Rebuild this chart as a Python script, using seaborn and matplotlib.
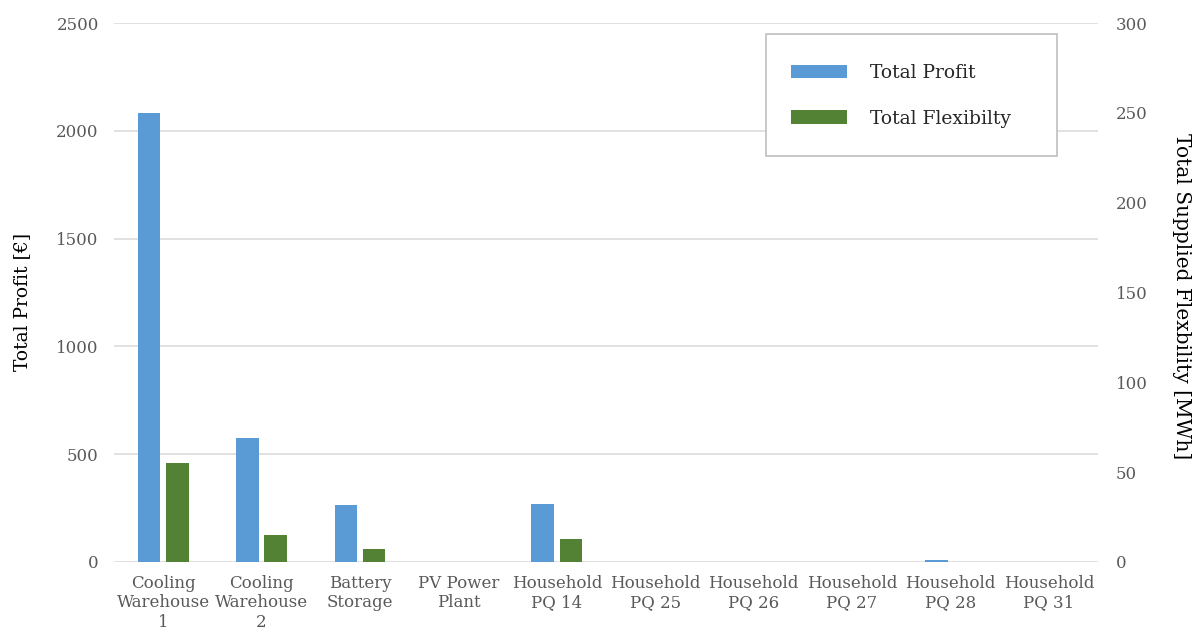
import numpy as np
import pandas as pd
import matplotlib
matplotlib.use("Agg")
import matplotlib.pyplot as plt
import seaborn as sns
from matplotlib.patches import Rectangle, Patch

# Assets on the x axis
assets = [
    "Cooling\nWarehouse\n1", "Cooling\nWarehouse\n2", "Battery\nStorage",
    "PV Power\nPlant", "Household\nPQ 14", "Household\nPQ 25",
    "Household\nPQ 26", "Household\nPQ 27", "Household\nPQ 28",
    "Household\nPQ 31",
]
# Total profit per asset [€]
total_profit = [2083, 577, 263, 0, 267, 0, 0, 0, 10, 0]
# Total supplied flexibility per asset [MWh]
total_flexibility = [55.0, 15.2, 7.3, 0, 13.0, 0, 0, 0, 0.2, 0]

series_names = ["Total Profit", "Total Flexibilty"]
profit_ticks = [0, 500, 1000, 1500, 2000, 2500]
flex_ticks = [0, 50, 100, 150, 200, 250, 300]

colors = {"Total Profit": "#5B9BD5", "Total Flexibilty": "#548235"}

sns.set_style("white")
plt.rcParams["font.family"] = ["DejaVu Serif"]

W, H = 1199, 639
fig = plt.figure(figsize=(W / 100, H / 100), dpi=100)
ax1 = fig.add_axes([114 / W, 1 - 562 / H, 984 / W, 539 / H])
ax2 = ax1.twinx()

df_profit = pd.DataFrame({"Asset": assets, "Series": series_names[0], "Value": total_profit})
df_flex = pd.DataFrame({"Asset": assets, "Series": series_names[1], "Value": total_flexibility})

common = dict(x="Asset", y="Value", hue="Series", hue_order=series_names,
              order=assets, palette=colors, width=0.575, gap=0.2, dodge=True,
              legend=False, saturation=1, linewidth=0)
sns.barplot(data=df_profit, ax=ax1, **common)
sns.barplot(data=df_flex, ax=ax2, **common)

tick_color = "#595959"
ax1.set_ylim(0, 2500)
ax1.set_yticks(profit_ticks)
ax2.set_ylim(0, 300)
ax2.set_yticks(flex_ticks)
ax1.set_xlim(-0.5, len(assets) - 0.5)

ax1.yaxis.grid(True, color="#d9d9d9", linewidth=1.1)
ax1.set_axisbelow(True)
for ax in (ax1, ax2):
    for s in ax.spines.values():
        s.set_visible(False)
    ax.tick_params(length=0, colors=tick_color, labelsize=12)

ax1.tick_params(axis="y", pad=11)
ax2.tick_params(axis="y", pad=13)
ax1.tick_params(axis="x", pad=9)

ax1.set_xlabel("")
ax1.set_ylabel("Total Profit [€]", fontsize=13.5, color="black", va="center")
ax1.yaxis.set_label_coords((22 - 114) / 984, (562 - 302) / 539)
ax2.set_ylabel("Total Supplied Flexbility [MWh]", fontsize=14.5, color="black",
               rotation=270, va="center")
ax2.yaxis.set_label_coords((1181 - 114) / 984, (562 - 296) / 539)

# Legend inside a framed box in the upper right
box = (766 / W, 1 - 156 / H, 291 / W, 122 / H)
fig.patches.append(Rectangle(box[:2], box[2], box[3], transform=fig.transFigure,
                             facecolor="white", edgecolor="#bfbfbf",
                             linewidth=1.2, zorder=3))
handles = [Patch(facecolor=colors[n], edgecolor="none") for n in series_names]
leg = fig.legend(handles, series_names, loc="upper left",
                 bbox_to_anchor=(791 / W, 1 - 64 / H),
                 bbox_transform=fig.transFigure, frameon=False,
                 fontsize=13.5, handlelength=3.0, handleheight=0.7,
                 handletextpad=1.2, labelspacing=1.47, borderpad=0,
                 borderaxespad=0)
leg.set_zorder(6)

fig.savefig("out.png", dpi=100)
